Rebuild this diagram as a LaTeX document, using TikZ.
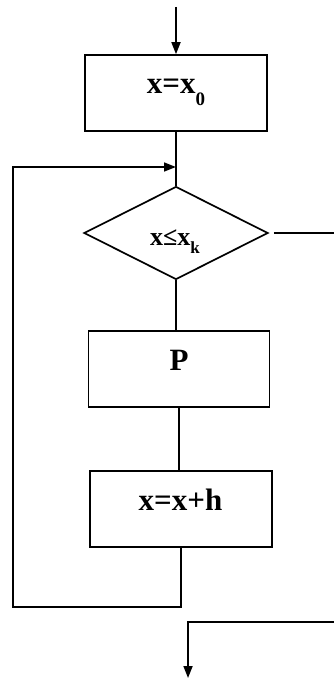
\documentclass[tikz,border=0pt]{standalone}
\usepackage{fontspec}
\setmainfont{Liberation Serif}
\usetikzlibrary{shapes.geometric,arrows.meta}
\begin{document}
\begin{tikzpicture}[x=1pt,y=-1pt,
  line/.style={line width=1.7pt},
  arr/.style={line width=1.7pt,-{Triangle[length=12pt,width=9pt]}},
  box/.style={draw,line width=1.7pt,rectangle,inner sep=0pt,minimum width=182pt,minimum height=76pt},
  dia/.style={draw,line width=1.7pt,diamond,inner sep=0pt,minimum width=184pt,minimum height=93pt},
  lbl/.style={anchor=base,inner sep=0pt,font=\bfseries\fontsize{31}{31}\selectfont}]
\useasboundingbox (0,0) rectangle (334,679);
% blocks
\node[box] (b1) at (176,93) {};
\node[dia] (d) at (176,233) {};
\node[box,minimum width=181pt] (bp) at (179,369) {};
\node[box] (b3) at (181,509) {};
% texts
\node[lbl] (t1) at (176,94) {x=x\raisebox{-12pt}{\fontsize{19}{19}\selectfont 0}};
\node[lbl,font=\bfseries\fontsize{26}{26}\selectfont] (t2) at (175,245) {x≤x\raisebox{-8pt}{\fontsize{17}{17}\selectfont k}};
\node[lbl] (tp) at (179,370) {P};
\node[lbl] (t3) at (180.5,510) {x=x+h};
% coordinates
\coordinate (top) at (176,7);
\coordinate (lb) at (13,607);
\coordinate (lt) at (13,167);
\coordinate (rout) at (334,233);
\coordinate (rin) at (334,622);
\coordinate (ec) at (188,622);
\coordinate (ee) at (188,678);
% connectors
\draw[arr] (top) -- (b1.north);
\draw[line] (b1.south) -- (d.north);
\draw[line] (d.south) -- (d.south |- bp.north);
\draw[line] (bp.south) -- (bp.south |- b3.north);
\draw[arr] (b3.south) -- (b3.south |- lb) -- (lb) -- (lt) -- (lt -| b1.south);
\draw[line,shorten <=5pt] (d.east) -- (rout);
\draw[arr] (rin) -- (ec) -- (ee);
\end{tikzpicture}
\end{document}
